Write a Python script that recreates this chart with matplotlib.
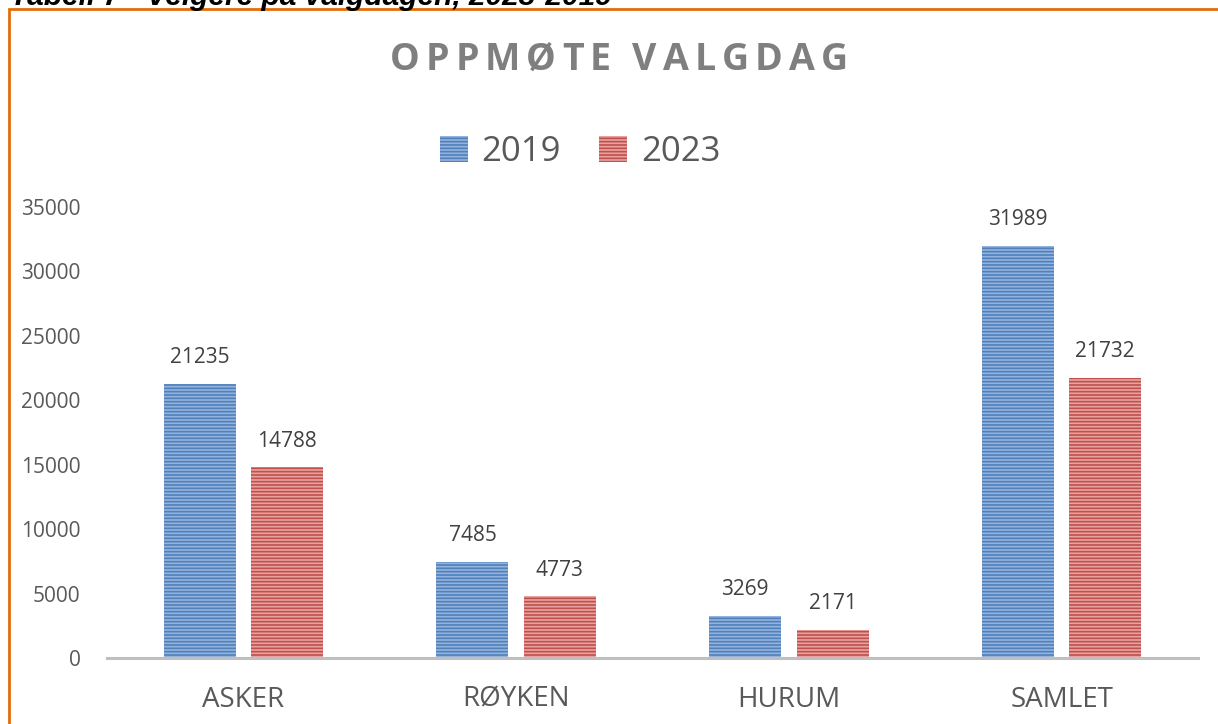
import numpy as np
import matplotlib
matplotlib.use('Agg')
import matplotlib.pyplot as plt
from matplotlib.patches import Rectangle

# data
kommuner = ['ASKER', 'RØYKEN', 'HURUM', 'SAMLET']
aar_2019 = [21235, 7485, 3269, 31989]
aar_2023 = [14788, 4773, 2171, 21732]
yticks = [0, 5000, 10000, 15000, 20000, 25000, 30000, 35000]

plt.rcParams['font.family'] = ['Open Sans', 'DejaVu Sans']
plt.rcParams['hatch.linewidth'] = 1.2

fig = plt.figure(figsize=(12.18, 7.24), dpi=100)
ax = fig.add_axes([107/1218, 66/724, 1091/1218, 451/724])

x = np.arange(len(kommuner))
w = 0.264
off = 0.16
b1 = ax.bar(x - off, aar_2019, w, color='#95b3dc', edgecolor='#4f81bd',
            hatch='-----', linewidth=0, label='2019')
b2 = ax.bar(x + off, aar_2023, w, color='#e8a3a1', edgecolor='#c0504d',
            hatch='-----', linewidth=0, label='2023')

for bars, vals in [(b1, aar_2019), (b2, aar_2023)]:
    for r, v in zip(bars, vals):
        ax.annotate(str(v), (r.get_x() + r.get_width()/2, v), xytext=(0, 19),
                    textcoords='offset points', ha='center', va='center',
                    fontsize=15, color='#404040')

ax.set_xlim(-0.5, 3.5)
ax.set_ylim(0, 35000)
ax.set_yticks(yticks)
ax.set_xticks(x)
ax.set_xticklabels(kommuner, fontsize=20, color='#595959')
ax.tick_params(axis='y', length=0, pad=19, labelsize=15, labelcolor='#595959')
ax.tick_params(axis='x', length=0, pad=20)
for s in ['top', 'right', 'left']:
    ax.spines[s].set_visible(False)
ax.spines['bottom'].set_color('#bfbfbf')
ax.spines['bottom'].set_linewidth(2.2)

# tittel med sperret skrift, tegnet bokstav for bokstav
tittel = 'OPPMØTE VALGDAG'
renderer = fig.canvas.get_renderer()
sperring = 6
deler = []
for ch in tittel:
    t = fig.text(0, 1 - 60/724, ch, ha='left', va='center', fontsize=27,
                 fontweight='bold', color='#7f7f7f')
    deler.append((t, t.get_window_extent(renderer).width))
total = sum(b for _, b in deler) + sperring * (len(deler) - 1)
xpos = 619 - total / 2
for t, b in deler:
    t.set_x(xpos / 1218)
    xpos += b + sperring

fig.legend(handles=[b1, b2], loc='center', bbox_to_anchor=(580/1218, 1 - 152/724),
           ncol=2, frameon=False, fontsize=25, labelcolor='#595959',
           handlelength=0.8, handleheight=0.8, handletextpad=0.4, columnspacing=1.1)

# avkuttet tabelltekst og ramme
fig.text(10/1218, 1 - 5/724, 'Tabell 7 - Velgere på valgdagen, 2023-2019',
         ha='left', va='baseline', fontsize=21.5, fontweight='bold', style='italic',
         family='Liberation Sans', color='black')
fig.add_artist(Rectangle((9/1218, -0.1), 1.2, 1 - 9/724 + 0.1, transform=fig.transFigure,
                         fill=False, edgecolor='#e36c0a', linewidth=2))

fig.savefig('out.png', dpi=100)
